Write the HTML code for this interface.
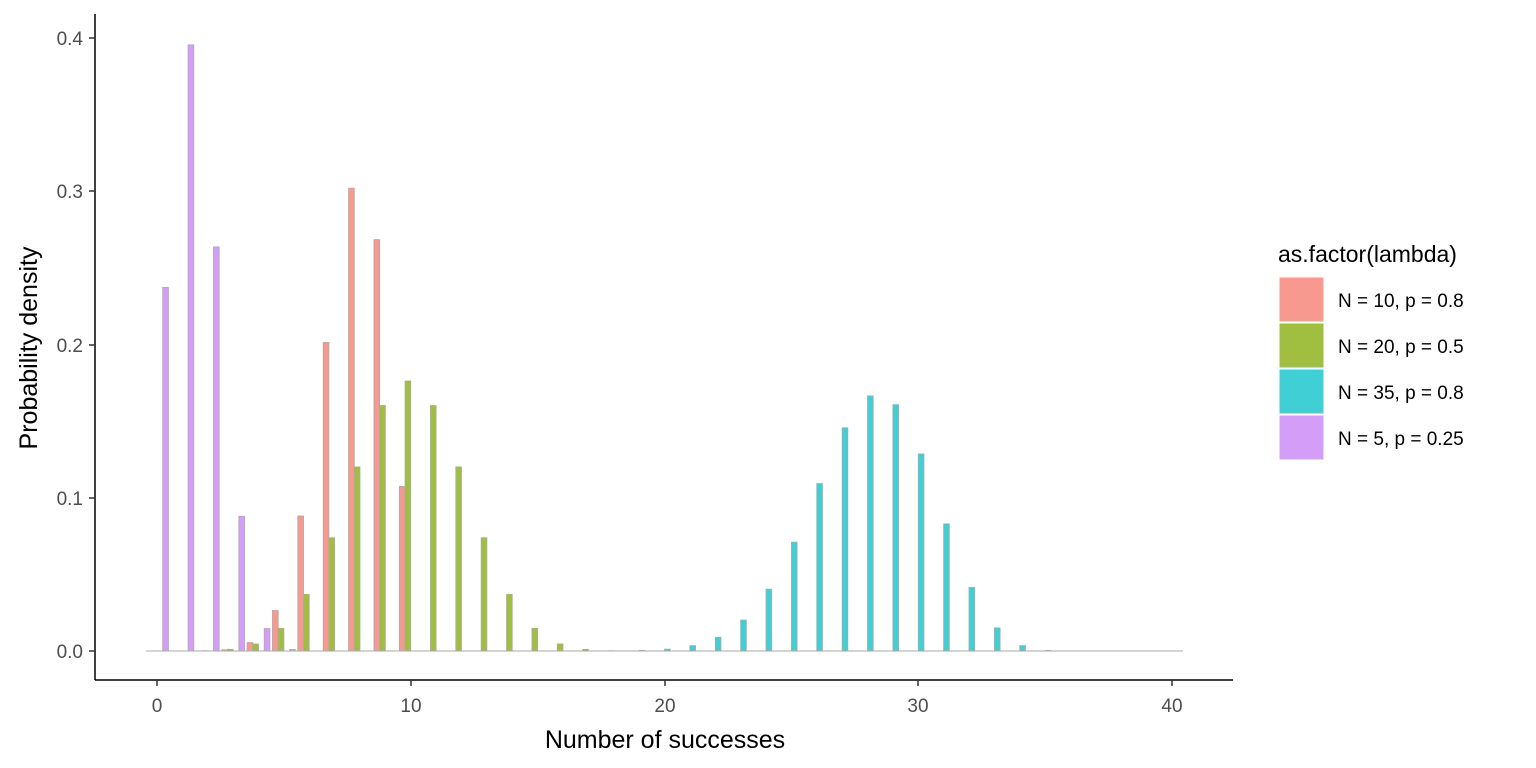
<!DOCTYPE html>
<html><head><meta charset="utf-8"><style>body{margin:0;background:#fff}svg{display:block;font-family:"Liberation Sans",Arial,sans-serif}</style></head>
<body>
<svg id="s" width="1536" height="768" xmlns="http://www.w3.org/2000/svg">
<line x1="146" y1="651" x2="1183" y2="651" stroke="#aaa" stroke-width="1"/>
<g id="bars"></g>
<line x1="95" y1="14" x2="95" y2="680" stroke="#000" stroke-width="1.5"/>
<line x1="95" y1="680" x2="1233" y2="680" stroke="#000" stroke-width="1.5"/>
<g stroke="#333" stroke-width="1.5">
<line x1="89" y1="651" x2="95" y2="651"/><line x1="89" y1="498" x2="95" y2="498"/><line x1="89" y1="345" x2="95" y2="345"/><line x1="89" y1="191" x2="95" y2="191"/><line x1="89" y1="38" x2="95" y2="38"/>
<line x1="157" y1="680" x2="157" y2="686"/><line x1="411" y1="680" x2="411" y2="686"/><line x1="665" y1="680" x2="665" y2="686"/><line x1="918" y1="680" x2="918" y2="686"/><line x1="1172" y1="680" x2="1172" y2="686"/>
</g>
<g fill="#4d4d4d" font-size="19" text-anchor="end">
<text x="83" y="658">0.0</text><text x="83" y="505">0.1</text><text x="83" y="352">0.2</text><text x="83" y="198">0.3</text><text x="83" y="45">0.4</text>
</g>
<g fill="#4d4d4d" font-size="19" text-anchor="middle">
<text x="157" y="712">0</text><text x="411" y="712">10</text><text x="665" y="712">20</text><text x="918" y="712">30</text><text x="1172" y="712">40</text>
</g>
<text x="665" y="748" font-size="25" text-anchor="middle">Number of successes</text>
<text transform="translate(37,348) rotate(-90)" font-size="25" text-anchor="middle">Probability density</text>
<text x="1278" y="262" font-size="23">as.factor(lambda)</text>
<rect x="1279" y="277" width="45" height="45" fill="#F8998F" stroke="#fff"/>
<rect x="1279" y="323" width="45" height="45" fill="#A0BF40" stroke="#fff"/>
<rect x="1279" y="369" width="45" height="45" fill="#3FCFD4" stroke="#fff"/>
<rect x="1279" y="415" width="45" height="45" fill="#D49EF8" stroke="#fff"/>
<g font-size="19"><text x="1338" y="307">N = 10, p = 0.8</text><text x="1338" y="353">N = 20, p = 0.5</text><text x="1338" y="399">N = 35, p = 0.8</text><text x="1338" y="445">N = 5, p = 0.25</text></g>
</svg>
<script>
function pmf(n,p,k){if(k>n)return 0;let c=1;for(let i=0;i<k;i++)c=c*(n-i)/(i+1);return c*Math.pow(p,k)*Math.pow(1-p,n-k);}
var S=[[10,0.8,"#F8998F"],[20,0.5,"#A0BF40"],[35,0.8,"#3FCFD4"],[5,0.25,"#D49EF8"]];
var g=document.getElementById("bars"),h="";
var w=25.375*0.225;
for(var k=0;k<=40;k++){for(var j=0;j<4;j++){var v=pmf(S[j][0],S[j][1],k);var x=157+k*25.375-2*w+j*w;var hh=v*1532.5;
h+='<rect x="'+x.toFixed(2)+'" y="'+(651-hh).toFixed(2)+'" width="'+w.toFixed(2)+'" height="'+hh.toFixed(2)+'" fill="'+S[j][2]+'" stroke="#aaa" stroke-width="0.8"/>';}}
g.innerHTML=h;
</script>
</body></html>
